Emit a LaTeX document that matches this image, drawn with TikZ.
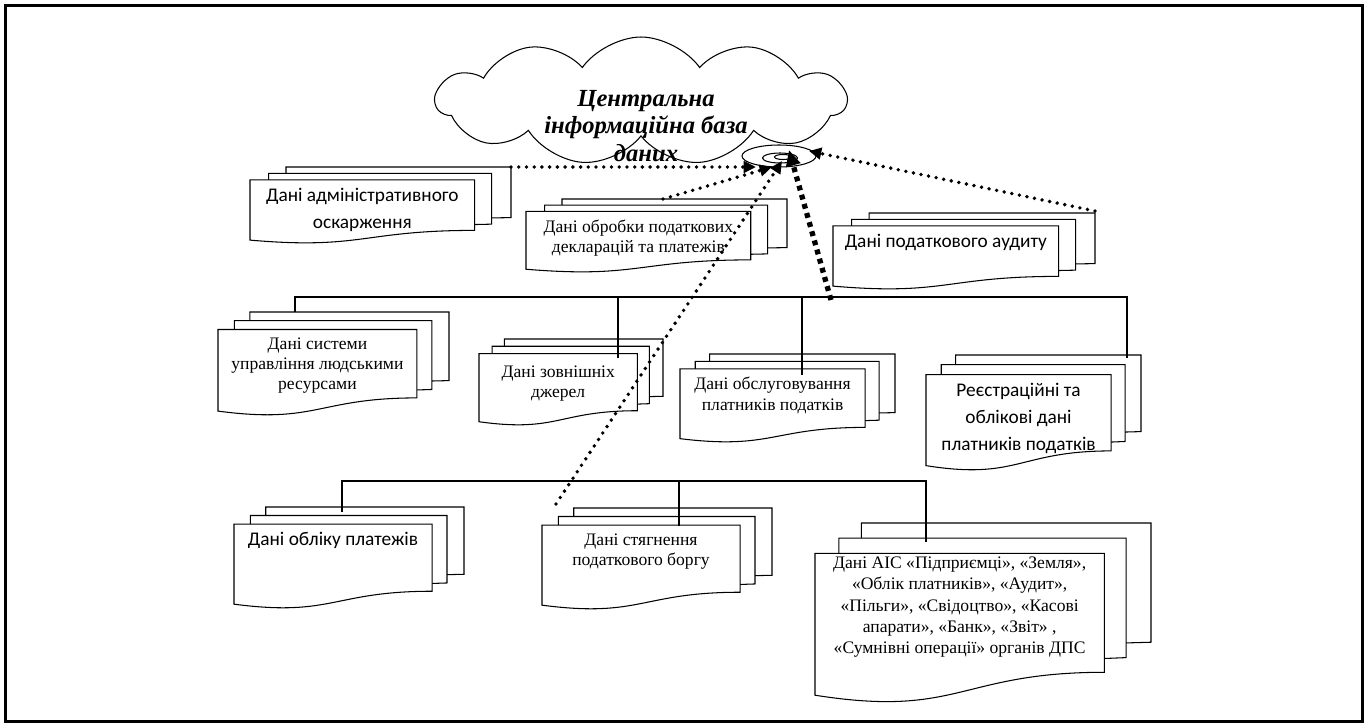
\documentclass[tikz,border=0pt]{standalone}
\usepackage{fontspec}
\setmainfont{Liberation Serif}
\newfontfamily\calibri{Carlito}
\usetikzlibrary{arrows.meta,shapes.symbols,shapes.geometric}

% multi-page document: name, left, top, width, height, text style, text
\newcommand{\mdoc}[7]{%
  \begin{scope}[shift={(#2,#3)}, x={(#4*0.02cm,0cm)}, y={(0cm,-#5*0.02cm)}]
    \fill[white] (0.138,0) rectangle (1,0.67);
    \draw (0.138,0.084) -- (0.138,0) -- (1,0) -- (1,0.666) -- (0.926,0.670);
    \fill[white] (0.071,0.084) rectangle (0.926,0.757);
    \draw (0.071,0.170) -- (0.071,0.084) -- (0.926,0.084) -- (0.926,0.752) -- (0.861,0.757);
    \draw[fill=white] (0,0.962) .. controls (0.43,1.09) and (0.43,0.834) .. (0.861,0.834)
      -- (0.861,0.170) -- (0,0.170) -- cycle;
    \coordinate (#1-top) at (0.4305,0.170);
  \end{scope}
  \node[doctxt, #6] (#1) at (#1-top) {#7};
}

\begin{document}
\begin{tikzpicture}[x=0.02cm, y=-0.02cm, line width=0.6pt,
  doctxt/.style={anchor=north, yshift=-4.5pt, align=center, inner sep=0pt},
  sertxt/.style={font=\fontsize{10}{11.4}\selectfont},
  santxt/.style={font=\calibri\fontsize{11}{15.4}\selectfont},
  dots/.style={line width=2.2pt, line cap=round, dash pattern=on 0pt off 4.4pt,
    -{Triangle[length=7pt,width=6.5pt]}},
  bigdots/.style={line width=3pt, dash pattern=on 2.8pt off 2.6pt,
    -{Triangle[length=9pt,width=8pt]}}
]
\useasboundingbox (0,0) rectangle (1367,727);
\draw[line width=1.7pt] (5.5,5.5) rectangle (1362.5,721.5);

% central database
\node[cloud, draw, fill=white, cloud puffs=11, cloud puff arc=110, aspect=3.0,
  minimum width=8.2cm, minimum height=2.56cm, inner sep=0pt] (cloud) at (641,101) {};
\node[font=\bfseries\itshape\fontsize{14}{15.6}\selectfont, align=center,
  inner sep=0pt] (cdb) at (646,126) {Центральна\\інформаційна база\\даних};
\node[ellipse, draw, fill=white, minimum width=1.48cm, minimum height=0.44cm,
  inner sep=0pt] (db) at (779,156) {};
\node[ellipse, draw, minimum width=0.7cm, minimum height=0.2cm, inner sep=0pt] (dbin) at (780,158) {};
\node[ellipse, draw, minimum width=0.34cm, minimum height=0.1cm, inner sep=0pt] (dbcore) at (783,157) {};

% documents
\mdoc{adm}{250}{167}{261}{76}{santxt}{Дані адміністративного\\оскарження}
\mdoc{decl}{526}{199}{261}{73}{sertxt}{Дані обробки податкових\\декларацій та платежів}
\mdoc{aud}{833}{213}{262}{76}{santxt}{Дані податкового аудиту}
\mdoc{hr}{218}{312}{231}{103}{sertxt}{Дані системи\\управління людськими\\ресурсами}
\mdoc{ext}{479}{339}{184}{86}{sertxt, yshift=-2pt}{Дані зовнішніх\\джерел}
\mdoc{srv}{680}{354}{215}{88}{sertxt}{Дані обслуговування\\платників податків}
\mdoc{reg}{926}{355}{215}{115}{santxt}{Реєстраційні та\\облікові дані\\платників податків}
\mdoc{pay}{234}{507}{230}{101}{santxt}{Дані обліку платежів}
\mdoc{debt}{542}{508}{230}{101}{sertxt}{Дані стягнення\\податкового боргу}
\mdoc{ais}{815}{523}{336}{179}{sertxt, font=\fontsize{10}{12.2}\selectfont, yshift=3pt}{Дані АІС «Підприємці», «Земля»,\\«Облік платників», «Аудит»,\\«Пільги», «Свідоцтво», «Касові\\апарати», «Банк», «Звіт» ,\\«Сумнівні операції» органів ДПС}

% tree connectors
\coordinate (bus1) at (0,297);
\coordinate (hrIn) at (295,312);
\coordinate (extIn) at (618,358);
\coordinate (srvIn) at (802,375);
\coordinate (regIn) at (1127,358);
\draw (hrIn) -- (hrIn |- bus1) -- (regIn |- bus1) -- (regIn);
\draw (extIn |- bus1) -- (extIn);
\draw (srvIn |- bus1) -- (srvIn);

\coordinate (bus2) at (0,481);
\coordinate (payIn) at (342,512);
\coordinate (debtIn) at (679,526);
\coordinate (aisIn) at (926,542);
\draw (payIn) -- (payIn |- bus2) -- (aisIn |- bus2) -- (aisIn);
\draw (debtIn |- bus2) -- (debtIn);

% flows into the database
\coordinate (admOut) at (511,167);
\coordinate (declOut) at (663,199);
\coordinate (debtOut) at (556,504);
\coordinate (busOut) at (831,300);
\coordinate (audOut) at (1095,211);
\coordinate (dbW) at (756,167);
\coordinate (dbSW) at (772,167);
\coordinate (dbS) at (782,161);
\coordinate (dbN) at (789,150);
\coordinate (dbE) at (809,151);
\draw[dots] (admOut) -- (dbW);
\draw[dots] (declOut) -- (dbSW);
\draw[dots] (debtOut) -- (dbS);
\draw[bigdots] (busOut) -- (dbN);
\draw[dots] (audOut) -- (dbE);
\end{tikzpicture}
\end{document}
